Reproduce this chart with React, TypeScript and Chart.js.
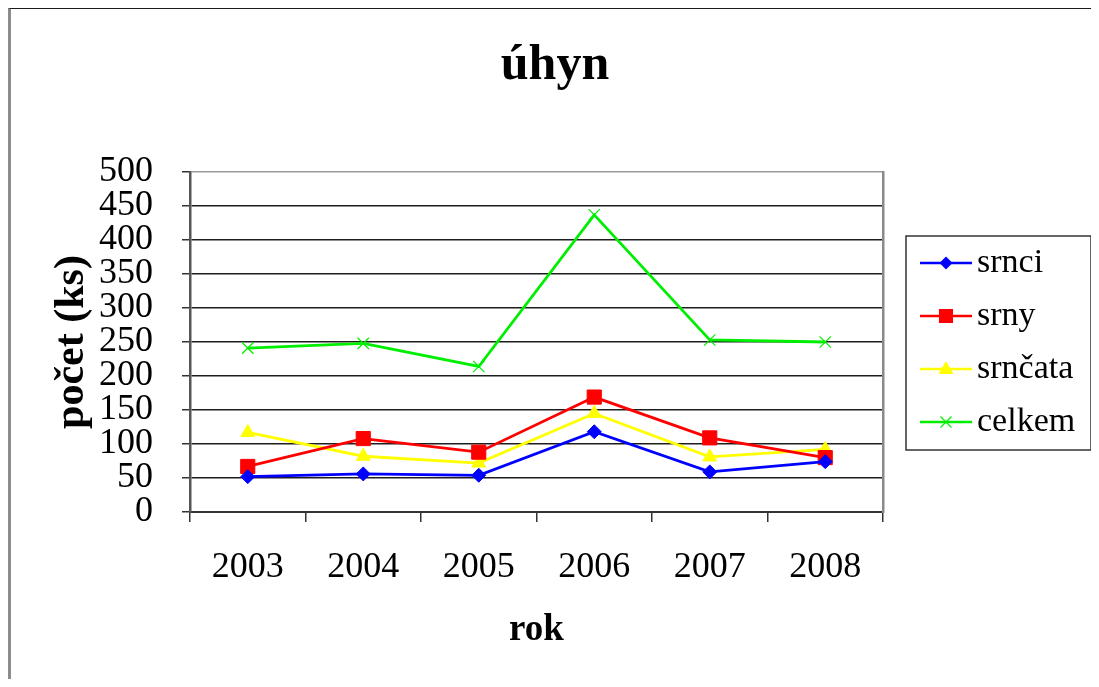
import React, { useEffect, useRef } from "react";
import { Chart, registerables } from "chart.js";

Chart.register(...registerables);

// ---- data ----
const years = ["2003", "2004", "2005", "2006", "2007", "2008"];
const srnci = [52, 56, 54, 118, 59, 74];
const srny = [67, 108, 88, 169, 109, 80];
const srncata = [117, 82, 72, 145, 81, 92];
const celkem = [241, 248, 214, 437, 253, 250];
const seriesNames = ["srnci", "srny", "srnčata", "celkem"];
const seriesColors = ["#0000ff", "#ff0000", "#ffff00", "#00ee00"];
const seriesMarkers = ["rectRot", "rect", "triangle", "crossRot"];
const chartTitle = "úhyn";
const xTitle = "rok";
const yTitle = "počet (ks)";
const yMin = 0;
const yMax = 500;
const yStep = 50;

const SERIF = "'Liberation Serif', 'Times New Roman', serif";

function drawMarker(ctx: CanvasRenderingContext2D, style: string, x: number, y: number, color: string) {
  ctx.save();
  ctx.fillStyle = color;
  ctx.strokeStyle = color;
  ctx.beginPath();
  if (style === "rectRot") {
    ctx.moveTo(x, y - 6.5);
    ctx.lineTo(x + 6.5, y);
    ctx.lineTo(x, y + 6.5);
    ctx.lineTo(x - 6.5, y);
    ctx.closePath();
    ctx.fill();
  } else if (style === "rect") {
    ctx.rect(x - 7, y - 7, 14, 14);
    ctx.fill();
  } else if (style === "triangle") {
    ctx.moveTo(x, y - 8);
    ctx.lineTo(x + 7.5, y + 5);
    ctx.lineTo(x - 7.5, y + 5);
    ctx.closePath();
    ctx.fill();
  } else {
    ctx.lineWidth = 1.2;
    ctx.moveTo(x - 5.5, y - 5.5);
    ctx.lineTo(x + 5.5, y + 5.5);
    ctx.moveTo(x + 5.5, y - 5.5);
    ctx.lineTo(x - 5.5, y + 5.5);
    ctx.stroke();
  }
  ctx.restore();
}

const boxLegend = {
  id: "boxLegend",
  afterDraw(chart: any) {
    const ctx: CanvasRenderingContext2D = chart.ctx;
    const ca = chart.chartArea;
    const x0 = ca.right + 23;
    const y0 = ca.top + 64;
    const w = 185;
    const h = 214;
    ctx.save();
    ctx.strokeStyle = "#333";
    ctx.lineWidth = 1.5;
    ctx.strokeRect(x0, y0, w, h);
    chart.data.datasets.forEach((ds: any, i: number) => {
      const y = y0 + 27 + i * 53;
      ctx.strokeStyle = ds.borderColor;
      ctx.lineWidth = 2.5;
      ctx.beginPath();
      ctx.moveTo(x0 + 14, y);
      ctx.lineTo(x0 + 66, y);
      ctx.stroke();
      drawMarker(ctx, seriesMarkers[i], x0 + 40, y, ds.borderColor);
      ctx.fillStyle = "#000";
      ctx.font = `34px ${SERIF}`;
      ctx.textBaseline = "middle";
      ctx.textAlign = "left";
      ctx.fillText(ds.label, x0 + 71, y);
    });
    ctx.restore();
  },
};

export default function App() {
  const ref = useRef<HTMLCanvasElement | null>(null);

  useEffect(() => {
    if (!ref.current) return;
    const values = [srnci, srny, srncata, celkem];
    const chart = new Chart(ref.current, {
      type: "line",
      data: {
        labels: years,
        datasets: values.map((v, i) => ({
          label: seriesNames[i],
          data: v,
          borderColor: seriesColors[i],
          backgroundColor: seriesColors[i],
          pointBackgroundColor: seriesColors[i],
          pointBorderColor: seriesColors[i],
          borderWidth: 2.8,
          pointStyle: seriesMarkers[i] as any,
          pointRadius: [7, 10, 8, 8][i],
          pointBorderWidth: i === 3 ? 1.2 : 1,
          tension: 0,
          fill: false,
        })),
      },
      options: {
        responsive: false,
        animation: false,
        devicePixelRatio: 1,
        layout: { padding: 0 },
        plugins: {
          legend: { display: false },
          tooltip: { enabled: false },
          title: {
            display: true,
            text: chartTitle,
            color: "#000",
            font: { family: SERIF, size: 50, weight: "bold" },
            padding: { top: 27, bottom: 76 },
          },
        },
        scales: {
          x: {
            offset: true,
            grid: {
              offset: true,
              drawOnChartArea: false,
              drawTicks: true,
              tickLength: 10,
              tickColor: "#333",
              lineWidth: 1.5,
            },
            border: { display: true, color: "#333", width: 2 },
            ticks: {
              color: "#000",
              font: { family: SERIF, size: 36 },
              padding: 24,
              maxRotation: 0,
              autoSkip: false,
            },
            title: {
              display: true,
              text: xTitle,
              color: "#000",
              font: { family: SERIF, size: 37, weight: "bold" },
              padding: { top: 0, bottom: 26 },
            },
            afterFit: (s: any) => {
              s.height = 167;
            },
          },
          y: {
            min: yMin,
            max: yMax,
            grid: {
              color: (c: any) => (c.tick && c.tick.value === yMax ? "#9a9a9a" : "#1e1e1e"),
              lineWidth: 1.5,
              drawTicks: true,
              tickLength: 8,
              tickColor: "#333",
            },
            border: { display: true, color: "#555", width: 2.5 },
            ticks: {
              stepSize: yStep,
              autoSkip: false,
              color: "#000",
              font: { family: SERIF, size: 36 },
              padding: 29,
            },
            title: {
              display: true,
              text: yTitle,
              color: "#000",
              font: { family: SERIF, size: 42, weight: "bold" },
              padding: { top: 36, bottom: 0 },
            },
            afterFit: (s: any) => {
              s.width = 179;
            },
          },
          y2: {
            position: "right",
            display: true,
            grid: { display: false, drawTicks: false },
            border: { display: true, color: "#8a8a8a", width: 2.5 },
            ticks: { display: false },
            afterFit: (s: any) => {
              s.width = 216;
            },
          },
        },
      },
      plugins: [boxLegend],
    });
    return () => chart.destroy();
  }, []);

  return (
    <div
      style={{
        width: 1088,
        height: 670,
        borderTop: "1px solid #1a1a1a",
        borderLeft: "3px solid #8c8c8c",
        background: "#fff",
        overflow: "hidden",
      }}
    >
      <canvas ref={ref} width={1088} height={670} style={{ display: "block" }} />
    </div>
  );
}
